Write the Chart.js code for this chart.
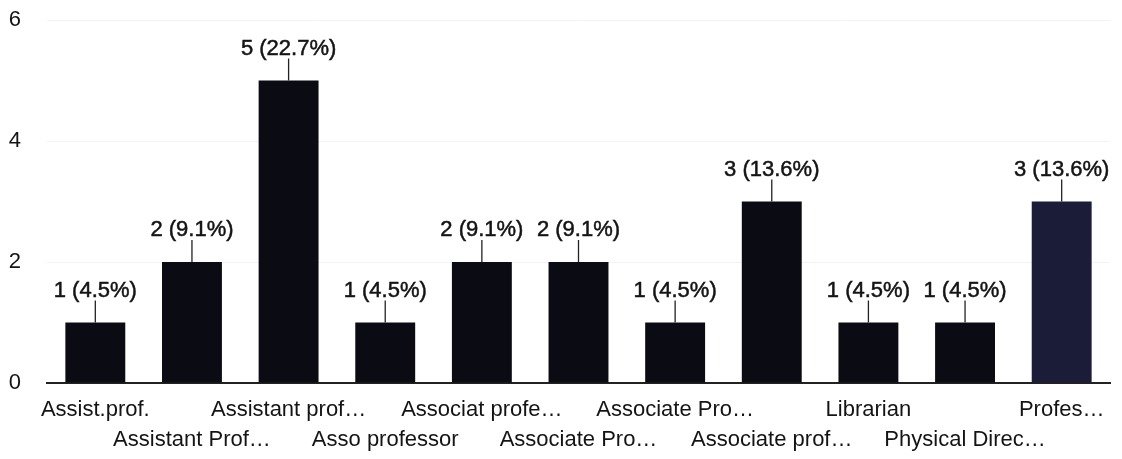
<!DOCTYPE html>
<html>
<head>
<meta charset="utf-8">
<script src="https://cdn.jsdelivr.net/npm/chart.js@4"></script>
<style>
  html, body { margin: 0; padding: 0; background: #fff; }
  #wrap { width: 1122px; height: 459px; position: relative; }
</style>
</head>
<body>
<div id="wrap"><canvas id="barChart"></canvas></div>
<script>
// Chart data
const categories = [
    'Assist.prof.', 'Assistant Prof…', 'Assistant prof…', 'Asso professor',
    'Associat profe…', 'Associate Pro…', 'Associate Pro…', 'Associate prof…',
    'Librarian', 'Physical Direc…', 'Profes…'
];
const counts = [1, 2, 5, 1, 2, 2, 1, 3, 1, 1, 3];
const percents = ['4.5%', '9.1%', '22.7%', '4.5%', '9.1%', '9.1%', '4.5%', '13.6%', '4.5%', '4.5%', '13.6%'];
const yMax = 6;
const yStep = 2;

const FONT = '"Liberation Sans", Arial, sans-serif';

// Draw "n (p%)" above each bar with a short leader line
const barLabelPlugin = {
    id: 'barLabels',
    afterDatasetsDraw: function(chart) {
        const ctx = chart.ctx;
        const meta = chart.getDatasetMeta(0);
        ctx.save();
        ctx.font = '22px ' + FONT;
        ctx.fillStyle = '#141414';
        ctx.textAlign = 'center';
        ctx.textBaseline = 'bottom';
        meta.data.forEach(function(bar, i) {
            const x = bar.x;
            const y = bar.y;
            ctx.strokeStyle = '#222';
            ctx.lineWidth = 1.3;
            ctx.beginPath();
            ctx.moveTo(x, y);
            ctx.lineTo(x, y - 22);
            ctx.stroke();
            const txt = counts[i] + ' (' + percents[i] + ')';
            ctx.lineWidth = 0.5;
            ctx.strokeStyle = '#141414';
            ctx.fillText(txt, x, y - 21);
            ctx.strokeText(txt, x, y - 21);
        });
        ctx.restore();
    }
};

const barCtx = document.getElementById('barChart').getContext('2d');
const barChart = new Chart(barCtx, {
    type: 'bar',
    data: {
        // alternate labels between two rows
        labels: categories.map(function(c, i) { return i % 2 === 0 ? [c, ''] : ['', c]; }),
        datasets: [{
            data: counts,
            backgroundColor: ['#0b0b14', '#0b0b14', '#0b0b14', '#0b0b14', '#0b0b14', '#0b0b14',
                              '#0b0b14', '#0b0b14', '#0b0b14', '#0b0b14', '#1b1c38'],
            borderWidth: 0,
            categoryPercentage: 1,
            barPercentage: 0.62
        }]
    },
    options: {
        responsive: true,
        maintainAspectRatio: false,
        animation: false,
        layout: {
            padding: { top: 20, right: 12, bottom: 0, left: 9 }
        },
        scales: {
            y: {
                min: 0,
                max: yMax,
                grid: {
                    color: '#f3f3f3',
                    drawTicks: false
                },
                border: { display: false },
                // tick padding inflates the axis box, so size it by hand
                afterFit: function(scale) {
                    scale.width = 38;
                    scale.paddingTop = 0;
                    scale.paddingBottom = 0;
                },
                ticks: {
                    stepSize: yStep,
                    color: '#141414',
                    padding: 26,
                    font: { size: 22, family: FONT }
                }
            },
            x: {
                grid: { display: false, drawTicks: false },
                border: { display: true, color: '#222', width: 2 },
                afterFit: function(scale) {
                    scale.height = 76;
                },
                ticks: {
                    color: '#141414',
                    autoSkip: false,
                    maxRotation: 0,
                    padding: 12,
                    font: { size: 22, family: FONT, lineHeight: 1.36 }
                }
            }
        },
        plugins: {
            legend: { display: false },
            tooltip: { enabled: false }
        }
    },
    plugins: [barLabelPlugin]
});
</script>
</body>
</html>
